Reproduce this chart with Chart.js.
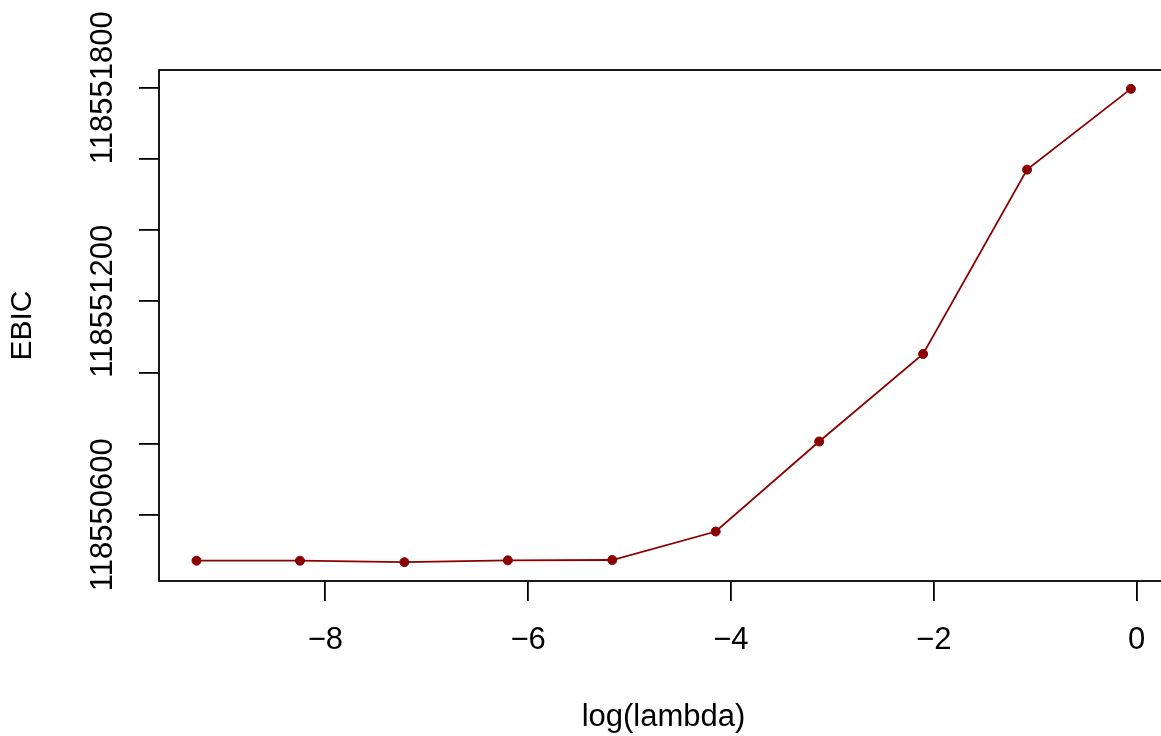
<!DOCTYPE html>
<html>
<head>
<meta charset="utf-8">
<script src="https://cdn.jsdelivr.net/npm/chart.js@4"></script>
<style>
  html, body { margin: 0; padding: 0; background: #fff; overflow: hidden; }
  #wrap { width: 1180px; height: 736px; }
</style>
</head>
<body>
<div id="wrap"><canvas id="ebicChart" width="1180" height="736"></canvas></div>
<script>
// log(lambda) values and EBIC
const logLambda = [-9.27, -8.25, -7.22, -6.20, -5.17, -4.15, -3.13, -2.105, -1.08, -0.056];
const ebic = [118550471, 118550471, 118550467, 118550472, 118550473,
              118550553, 118550806, 118551052, 118551570, 118551797];

const xTicks = [-8, -6, -4, -2, 0];
const yTicks = [118550600, 118550800, 118551000, 118551200, 118551400, 118551600, 118551800];
const yLabelled = [118550600, 118551200, 118551800];

const lineColor = '#8B0000';
const fontFamily = '"Liberation Sans", Arial, Helvetica, sans-serif';

// box around the plot region + rotated y tick labels (R style)
const rBox = {
  id: 'rBox',
  afterDraw(chart) {
    const { ctx, chartArea } = chart;
    ctx.save();
    ctx.strokeStyle = '#000';
    ctx.lineWidth = 1.8;
    ctx.strokeRect(chartArea.left, chartArea.top,
      chartArea.right - chartArea.left, chartArea.bottom - chartArea.top);

    const y = chart.scales.y;
    ctx.fillStyle = '#000';
    ctx.font = '31px ' + fontFamily;
    ctx.textAlign = 'center';
    ctx.textBaseline = 'alphabetic';
    yLabelled.forEach(v => {
      const py = y.getPixelForValue(v);
      ctx.save();
      ctx.translate(112, py);
      ctx.rotate(-Math.PI / 2);
      ctx.fillText(String(v), 0, 0);
      ctx.restore();
    });
    ctx.restore();
  }
};

new Chart(document.getElementById('ebicChart').getContext('2d'), {
  type: 'scatter',
  data: {
    datasets: [{
      data: logLambda.map((x, i) => ({ x, y: ebic[i] })),
      showLine: true,
      borderColor: lineColor,
      backgroundColor: lineColor,
      borderWidth: 1.8,
      pointRadius: 4.5,
      pointBorderWidth: 1,
      pointBackgroundColor: lineColor,
      tension: 0
    }]
  },
  options: {
    responsive: false,
    animation: false,
    devicePixelRatio: 1,
    layout: { padding: { top: 70, left: 0, right: 12, bottom: 0 } },
    plugins: { legend: { display: false }, tooltip: { enabled: false } },
    scales: {
      x: {
        type: 'linear',
        min: -9.64,
        max: 0.31,
        afterBuildTicks: s => { s.ticks = xTicks.map(v => ({ value: v })); },
        afterFit: s => { s.height = 155; },
        border: { display: false },
        grid: { drawOnChartArea: false, drawTicks: true, tickLength: 20, color: '#000', lineWidth: 1.8 },
        ticks: {
          color: '#000',
          font: { family: fontFamily, size: 31 },
          padding: 21,
          maxRotation: 0,
          callback: v => v < 0 ? '\u2212' + Math.abs(v) : String(v)
        },
        title: {
          display: true,
          text: 'log(lambda)',
          color: '#000',
          font: { family: fontFamily, size: 31 },
          padding: { top: 0, bottom: 0 }
        }
      },
      y: {
        type: 'linear',
        min: 118550414,
        max: 118551850,
        afterBuildTicks: s => { s.ticks = yTicks.map(v => ({ value: v })); },
        afterFit: s => { s.width = 159; },
        border: { display: false },
        grid: { drawOnChartArea: false, drawTicks: true, tickLength: 20, color: '#000', lineWidth: 1.8 },
        ticks: { display: false },
        title: {
          display: true,
          text: 'EBIC',
          color: '#000',
          font: { family: fontFamily, size: 30 },
          padding: { top: 5, bottom: 0 }
        }
      }
    }
  },
  plugins: [rBox]
});
</script>
</body>
</html>
